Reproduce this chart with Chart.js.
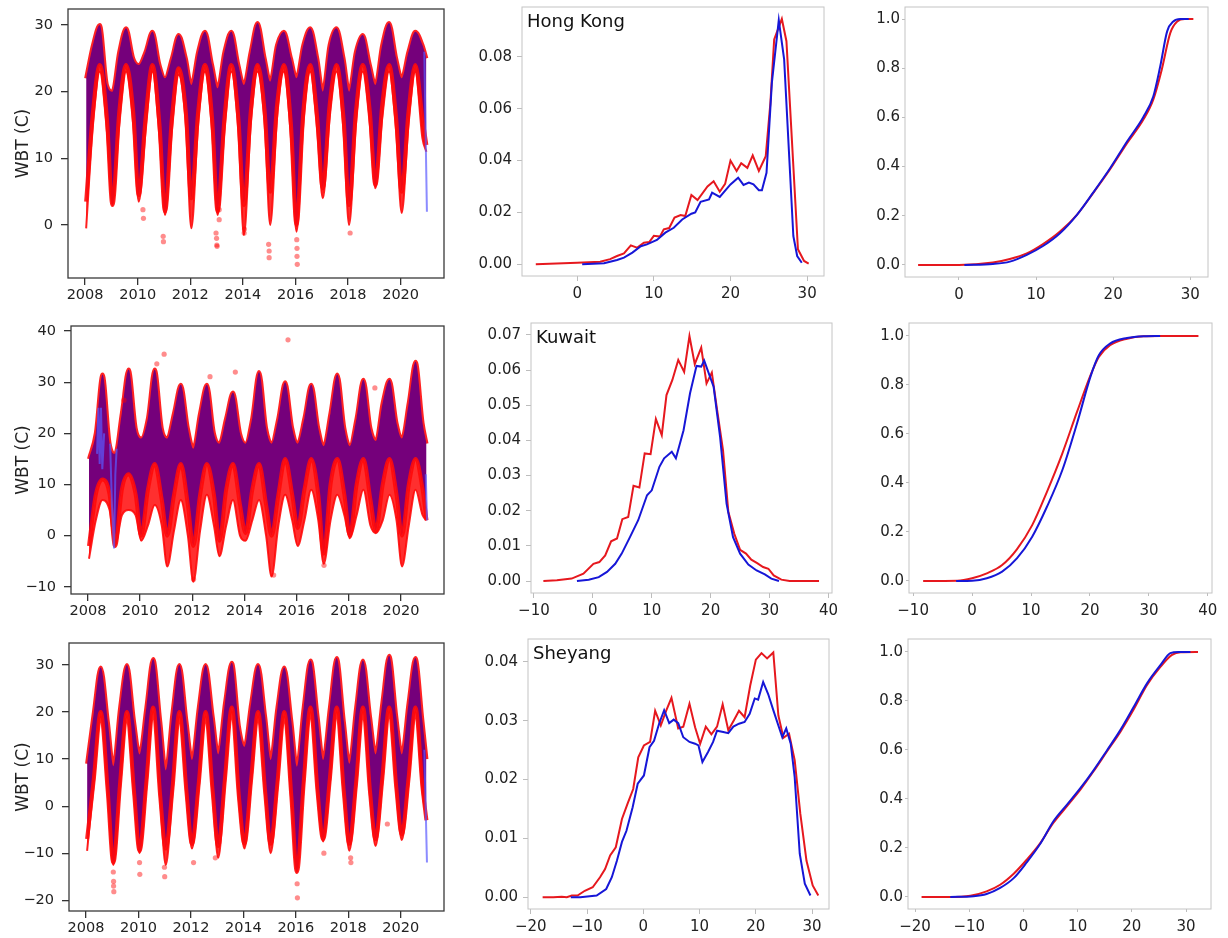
<!DOCTYPE html>
<html lang="en">
<head>
<meta charset="UTF-8">
<title>WBT comparison</title>
<script src="https://cdn.jsdelivr.net/npm/chart.js"></script>
<style>
  body { margin: 0; background: #fff; }
  #fig { position: relative; width: 1228px; height: 938px; overflow: hidden; }
  #fig canvas { position: absolute; }
</style>
</head>
<body>
<div id="fig"></div>
<script>
// ---- time series (left column): envelope read per season, Jan / Apr / Aug / Nov ----
const years = [2008, 2009, 2010, 2011, 2012, 2013, 2014, 2015, 2016, 2017, 2018, 2019, 2020];
const seasonPhase = [0.04, 0.3, 0.56, 0.83];
const lastDay = 2020.98;
const yearTicks = [2008, 2010, 2012, 2014, 2016, 2018, 2020];
const stations = ['Hong Kong', 'Kuwait', 'Sheyang'];

// Hong Kong
const hkHi = [
  22, 27, 30, 21,   20, 26, 29.5, 25,  24, 26, 29, 24,    22, 25, 28.5, 25,
  21, 26, 29, 24,   20.5, 26, 29, 24,  21, 26, 30.3, 25,  21.5, 27, 29, 25,
  22, 27, 29.5, 25, 20, 27, 29.5, 25,  20, 26, 28.5, 24,  21, 27, 30.3, 25,
  22, 26, 29, 27,   25];
const hkLo = [
  3.5, 17, 24, 16,  3, 17, 24, 17,     4.5, 16, 24, 15,   2, 16, 23.5, 17,
  4, 17, 24, 16,    2, 16, 24, 16,     3, 17, 24, 17,     5, 18, 24, 15,
  0, 17, 24, 16,    5.5, 18, 24, 16,   3, 17, 24, 17,     6, 18, 24, 16,
  5, 17, 24, 16,    12];
const hkRedLo = [
  -0.5, 15, 23, 14, 3, 15, 23, 15,     3.5, 14, 23, 13,   1.5, 14, 22.5, 15,
  -0.5, 15, 23, 14, 1.5, 14, 23, 14,   -1.5, 15, 23, 15,  0, 16, 23, 13,
  -1, 15, 23, 14,   4, 16, 23, 14,     0, 15, 23, 15,     5.5, 16, 23, 14,
  1.8, 15, 23, 13,  11];
const hkDotX = [2010.2, 2010.22, 2010.97, 2010.98, 2012.98, 2013.0, 2013.01, 2013.02, 2013.1, 2013.1,
  2014.05, 2014.06, 2014.98, 2015.0, 2015.0, 2016.05, 2016.06, 2016.06, 2016.07, 2018.08];
const hkDotY = [2.3, 1, -1.7, -2.5, -1.2, -2, -3, -3.2, 2.3, 0.8,
  -1.2, -0.6, -2.9, -3.9, -4.9, -2.2, -3.5, -4.7, -5.9, -1.2];
const hkBlueX = [2020.9, 2020.95, 2021.0];
const hkBlueY = [26, 14, 2];

// Kuwait
const kwHi = [
  15, 20, 31.5, 18,   16, 24, 32.5, 21,   19, 23, 32.5, 21,   19, 24, 29.5, 21,
  17, 24, 29.5, 20,   18, 23, 28, 20,     18, 23, 32, 21,     18, 23, 30, 21,
  18, 23, 29.5, 21,   17.5, 24, 31.5, 21, 17.5, 23, 30.5, 21, 18.5, 26, 30.5, 22,
  19, 26, 34, 22,     18];
const kwLo = [
  -2, 8, 11, 8,       -2, 9, 12, 8,       0, 9, 14, 7,        0, 8, 14, 6,
  -2, 8, 14, 8,       -1, 9, 14, 6,       0.5, 9, 14, 6,      0, 8, 15, 8,
  1.5, 9, 15, 8,      -3.5, 10, 15, 8,    0, 10, 15, 7,       1, 10, 15, 8,
  0, 10, 15, 9,       3];
const kwRedLo = [
  -4.5, 3, 7, 5,      -2, 4, 5, 4,        -1, 2, 6, 2,        -6, 1, 7, 0,
  -9, 1, 8, 2,        -4, 2, 7, 0,        -1, 3, 7, 0,        -8, 2, 8, 3,
  -2, 3, 9, 3,        -5.5, 3, 8, 4,      -0.5, 4, 9, 2,      0.5, 3, 8, 3,
  -6, 2, 9, 4,        3];
const kwDotX = [2009.38, 2010.64, 2010.92, 2012.68, 2013.65, 2015.67, 2019.0, 2012.05, 2015.12, 2017.05];
const kwDotY = [26.5, 33.6, 35.5, 31.1, 32, 38.3, 28.9, -8.5, -7.7, -5.8];
const kwBlueX = [2008.35, 2008.4, 2008.45, 2008.5, 2008.55, 2008.62, 2008.7, 2008.85, 2008.92, 2009.0, 2009.05, 2009.1, 2020.9, 2020.95, 2021.0];
const kwBlueY = [16, 25, 14, 25, 13, 20, null, 18, 6, -2.5, 12, 17, null, 12, 3];

// Sheyang
const shHi = [
  9, 20, 29.5, 18,    8.5, 21, 30, 18,    11, 21, 31.3, 18,   7.6, 20, 30, 18,
  9.8, 21, 30, 19,    11, 22, 30.5, 17,   12.6, 22, 30, 19,   9.8, 21, 29.5, 18,
  8.4, 21, 31, 19,    9.8, 21, 31.5, 18,  9, 21, 31, 19,      11, 22, 32, 19,
  11, 22, 31.5, 18,   10];
const shLo = [
  -7, 6, 20, 3,       -12, 5, 20, 3,      -9.5, 5, 21, 2,     -9, 4, 20, 3,
  -8, 5, 20, 3,       -8.5, 6, 21, 2,     -8, 6, 20, 3,       -8, 5, 20, 2,
  -14, 5, 21, 3,      -7, 6, 21, 3,       -8, 5, 21, 3,       -7, 6, 21, 4,
  -6, 6, 21, 4,       -3];
const shRedLo = [
  -9.5, 5, 19, 2,     -12.5, 4, 19, 2,    -10, 4, 20, 1,      -12.5, 3, 19, 2,
  -9, 4, 19, 2,       -11, 5, 20, 1,      -9, 5, 19, 2,       -10, 4, 19, 1,
  -14, 4, 20, 2,      -7.5, 5, 20, 2,     -9.5, 4, 20, 2,     -8.5, 5, 20, 3,
  -7.2, 5, 20, 3,     -3];
const shDotX = [2009.04, 2009.05, 2009.05, 2009.06, 2010.04, 2010.05, 2010.99, 2011.0, 2012.1, 2012.93,
  2016.05, 2016.06, 2017.07, 2018.09, 2018.1, 2019.49];
const shDotY = [-14, -16, -17, -18.2, -12, -14.5, -13, -15, -12, -11,
  -16.5, -19.5, -10, -11, -12, -3.8];
const shBlueX = [2020.9, 2020.95, 2021.0];
const shBlueY = [12, 0, -12];

// ---- probability density (middle column) ----
const hkPdfRedX = [-5.4, 0, 3, 4.3, 5.2, 6.1, 7, 7.8, 8.7, 9.4, 10, 10.8, 11.3, 12, 12.7, 13.5, 14.1, 14.9, 15.7, 17,
  17.8, 18.6, 19.3, 20, 20.8, 21.4, 22.2, 22.9, 23.7, 24.6, 25.2, 25.7, 26.7, 27.3, 28.8, 29.6, 30.2];
const hkPdfRedY = [0, 0.0006, 0.001, 0.002, 0.0032, 0.0042, 0.0073, 0.0064, 0.0083, 0.0086, 0.011, 0.0107, 0.0135, 0.014, 0.018, 0.019, 0.0186, 0.0267, 0.0248, 0.030,
  0.032, 0.028, 0.031, 0.040, 0.036, 0.039, 0.0372, 0.042, 0.036, 0.0417, 0.062, 0.0867, 0.0946, 0.086, 0.0058, 0.0013, 0.0003];
const hkPdfBlueX = [0.65, 3.5, 5.2, 6.1, 7.2, 8.3, 9.1, 10.4, 11.5, 12.6, 13.7, 14.9, 15.4, 16.1, 17.2, 17.6, 18.6, 20, 21, 21.7,
  22.4, 23, 23.7, 24.1, 24.7, 25.4, 26.3, 27, 28.2, 28.7, 29.3];
const hkPdfBlueY = [0, 0.0004, 0.0017, 0.0026, 0.0045, 0.007, 0.0077, 0.0094, 0.0122, 0.0141, 0.0173, 0.0195, 0.02, 0.0241, 0.025, 0.0276, 0.026, 0.0308, 0.0334, 0.0306,
  0.0315, 0.0308, 0.0286, 0.0286, 0.0353, 0.070, 0.0941, 0.079, 0.0109, 0.0032, 0.0006];

const kwPdfRedX = [-8.4, -6.1, -3.6, -1.6, 0.1, 1.1, 2.1, 3.1, 4.1, 5, 6, 6.9, 7.9, 8.8, 9.8, 10.7, 11.7, 12.5, 13.5, 14.5,
  15.5, 16.4, 17.3, 18.4, 19.3, 20.2, 21.1, 22.1, 23, 24, 25, 26, 26.9, 27.9, 28.9, 29.8, 30.7, 32, 33.4, 38.4];
const kwPdfRedY = [0, 0.0002, 0.0007, 0.0021, 0.0049, 0.0054, 0.0073, 0.0113, 0.0121, 0.0176, 0.0182, 0.0271, 0.0266, 0.0363, 0.0361, 0.0461, 0.0415, 0.0529, 0.0572, 0.0629,
  0.0595, 0.0697, 0.0617, 0.0664, 0.0562, 0.0593, 0.0486, 0.0372, 0.0197, 0.0135, 0.0089, 0.0078, 0.0061, 0.0051, 0.004, 0.0035, 0.0016, 0.0004, 0, 0];
const kwPdfBlueX = [-2.7, -0.7, 1, 2.4, 3.8, 4.9, 6.3, 7.7, 9.2, 10, 11.3, 12.1, 13.4, 14.1, 15.4, 16.5, 17.6, 18.4, 18.9, 20.5,
  21.6, 22.7, 23.8, 25, 26.4, 27.8, 29.2, 30.3, 31.6];
const kwPdfBlueY = [0, 0.0004, 0.0011, 0.0026, 0.0049, 0.0078, 0.0125, 0.0173, 0.0244, 0.0258, 0.0325, 0.0349, 0.0368, 0.0349, 0.0429, 0.0534, 0.0612, 0.061, 0.0627, 0.0553,
  0.041, 0.022, 0.0125, 0.0078, 0.0047, 0.003, 0.0019, 0.0007, 0];

const shPdfRedX = [-17.9, -16, -14.5, -13.6, -12.7, -11.7, -10.4, -9, -7.7, -6.8, -5.9, -4.9, -3.8, -2.8, -1.8, -0.9, 0.1, 1.2, 2.1, 3.1,
  4.1, 5, 6.2, 7.1, 8.2, 9.2, 10.1, 11.1, 12.1, 13.1, 14.1, 15.1, 16.1, 17, 18, 19, 20, 21, 22, 23.1,
  24, 24.9, 25.9, 26.9, 27.9, 29, 30.1, 31.1];
const shPdfRedY = [0, 0, 0.0001, 0, 0.0003, 0.0003, 0.0011, 0.0017, 0.0034, 0.0048, 0.0071, 0.0085, 0.0133, 0.0159, 0.0184, 0.0238, 0.0258, 0.0264, 0.0317, 0.0292,
  0.0318, 0.0339, 0.0287, 0.029, 0.0329, 0.0289, 0.0261, 0.029, 0.0277, 0.029, 0.0328, 0.0284, 0.0301, 0.0317, 0.0306, 0.036, 0.0404, 0.0415, 0.0406, 0.0416,
  0.0309, 0.0271, 0.0278, 0.0233, 0.0142, 0.0062, 0.002, 0.0003];
const shPdfBlueX = [-12.9, -11.2, -8.3, -6.6, -5.6, -4.7, -3.8, -3, -1.9, -1, 0.1, 1.1, 1.9, 2.8, 3.7, 4.6, 5.4, 6.2, 7.1, 8.2,
  9.2, 9.8, 10.5, 11.5, 12.4, 13.1, 14.2, 15.1, 16, 17, 18, 18.9, 19.8, 20.4, 21.3, 22.2, 23.1, 24, 24.7, 25.4,
  26.2, 26.9, 27.8, 28.7, 29.7];
const shPdfBlueY = [0, 0, 0.0003, 0.0014, 0.0034, 0.0062, 0.0094, 0.0113, 0.0153, 0.0193, 0.0207, 0.0255, 0.0266, 0.0295, 0.0318, 0.0296, 0.0302, 0.0296, 0.0272, 0.0264,
  0.0261, 0.0258, 0.023, 0.0247, 0.0264, 0.0283, 0.0281, 0.0279, 0.029, 0.0295, 0.0298, 0.0312, 0.0338, 0.0336, 0.0366, 0.0345, 0.0318, 0.0292, 0.0272, 0.0287,
  0.0261, 0.0204, 0.0074, 0.0023, 0.0003];

// ---- cumulative distribution (right column) ----
const hkCdfRedX = [-5.3, 0, 4.4, 6.6, 8.8, 10.9, 13.1, 15.3, 17.4, 19.6, 21.8, 23.9, 25.2, 26.3, 27.4, 28.3, 29.3, 30.4];
const hkCdfRedY = [0, 0, 0.0095, 0.024, 0.047, 0.085, 0.136, 0.204, 0.292, 0.389, 0.495, 0.59, 0.672, 0.794, 0.943, 0.99, 1, 1];
const hkCdfBlueX = [0.7, 4.4, 6.6, 8.8, 10.9, 13.1, 15.3, 17.4, 19.6, 21.8, 23.9, 25.2, 26.1, 27, 27.8, 28.7, 29.8];
const hkCdfBlueY = [0, 0.004, 0.0136, 0.041, 0.077, 0.129, 0.204, 0.294, 0.393, 0.502, 0.601, 0.685, 0.807, 0.95, 0.99, 1, 1];

const kwCdfRedX = [-8.3, -2.5, 0, 2.5, 5.1, 7.6, 10.2, 12.7, 15.3, 17.8, 20.1, 21.5, 23.4, 26.3, 29.1, 31.9, 38.4];
const kwCdfRedY = [0, 0.001, 0.011, 0.031, 0.065, 0.129, 0.228, 0.364, 0.52, 0.69, 0.84, 0.914, 0.962, 0.989, 0.999, 1, 1];
const kwCdfBlueX = [-2.7, 0, 2.5, 5.1, 7.6, 10.2, 12.7, 15.3, 17.8, 20.1, 21.5, 23.4, 26.3, 29.1, 31.9];
const kwCdfBlueY = [0, 0.001, 0.011, 0.038, 0.092, 0.181, 0.303, 0.452, 0.643, 0.835, 0.921, 0.969, 0.992, 0.999, 1];

const shCdfRedX = [-18.8, -13.8, -9.8, -6.8, -4.3, -1.8, 0.6, 3.1, 5.5, 8, 10.5, 12.9, 15.4, 17.9, 20.3, 22.8, 25.3, 27.4, 29, 32.2];
const shCdfRedY = [0, 0, 0.005, 0.023, 0.05, 0.095, 0.152, 0.22, 0.302, 0.37, 0.438, 0.512, 0.594, 0.675, 0.764, 0.865, 0.94, 0.988, 0.999, 1];
const shCdfBlueX = [-13.5, -9.2, -6.8, -4.3, -1.8, 0.6, 3.1, 5.5, 8, 10.5, 12.9, 15.4, 17.9, 20.3, 22.8, 25.3, 27.1, 28.6, 30.8];
const shCdfBlueY = [0, 0.003, 0.012, 0.037, 0.077, 0.141, 0.217, 0.308, 0.376, 0.444, 0.516, 0.598, 0.682, 0.774, 0.872, 0.947, 0.995, 1, 1];

// tick values
const hkTsTicks = [0, 10, 20, 30];
const kwTsTicks = [-10, 0, 10, 20, 30, 40];
const shTsTicks = [-20, -10, 0, 10, 20, 30];
const hkPdfTicks = [0, 0.02, 0.04, 0.06, 0.08];
const kwPdfTicks = [0, 0.01, 0.02, 0.03, 0.04, 0.05, 0.06, 0.07];
const shPdfTicks = [0, 0.01, 0.02, 0.03, 0.04];
const cdfTicks = [0, 0.2, 0.4, 0.6, 0.8, 1.0];
const hkTempTicks = [0, 10, 20, 30];
const kwTempTicks = [-10, 0, 10, 20, 30, 40];
const shTempTicks = [-20, -10, 0, 10, 20, 30];

// ---- drawing ----
Chart.defaults.font.family = '"DejaVu Sans", sans-serif';
Chart.defaults.color = '#222';

const PAD_T = 24, PAD_R = 24, AXIS_H = 36;
const RED_EDGE = 'rgba(255,10,10,0.9)';
const PURPLE = 'rgb(117,0,123)';
const LINE_RED = 'rgb(230,24,30)';
const LINE_BLUE = 'rgb(22,22,215)';

const pts = (xs, ys) => xs.map((x, i) => ({x: x, y: ys[i]}));
const tsX = years.flatMap(yr => seasonPhase.map(p => yr + p)).concat([lastDay]);
const minus = s => s.replace('-', '\u2212');

const framePlugin = {
  id: 'frame',
  afterDatasetsDraw(chart, args, opts) {
    const {ctx, chartArea: a} = chart;
    ctx.save();
    ctx.strokeStyle = opts.color;
    ctx.lineWidth = opts.width;
    ctx.strokeRect(a.left, a.top, a.right - a.left, a.bottom - a.top);
    if (opts.label) {
      ctx.fillStyle = '#111';
      ctx.font = '18px "DejaVu Sans"';
      ctx.textBaseline = 'alphabetic';
      ctx.fillText(opts.label, a.left + 5, a.top + 20);
    }
    ctx.restore();
  }
};

function makeCtx(box, wy) {
  const [l, t, r, b] = box;
  const c = document.createElement('canvas');
  c.width = r - l + wy + PAD_R;
  c.height = b - t + PAD_T + AXIS_H;
  c.style.left = (l - wy) + 'px';
  c.style.top = (t - PAD_T) + 'px';
  document.getElementById('fig').appendChild(c);
  return c.getContext('2d');
}

function axes(p, st) {
  const grid = {drawOnChartArea: false, drawTicks: true, tickLength: st.tick, color: st.tickColor, lineWidth: st.lw};
  const y = {
    type: 'linear', min: p.y[0], max: p.y[1], border: {display: false}, grid: grid,
    afterBuildTicks: s => { s.ticks = p.yt.map(v => ({value: v})); },
    afterFit: s => { s.width = p.wy; },
    ticks: {font: {size: st.font}, color: '#222', padding: st.padY, autoSkip: false, callback: p.fy}
  };
  if (p.title) {
    y.title = {display: true, text: p.title, color: '#222', font: {size: 17}, padding: {top: 13, bottom: 0}};
  }
  return {
    x: {
      type: 'linear', min: p.x[0], max: p.x[1], border: {display: false}, grid: grid,
      afterBuildTicks: s => { s.ticks = p.xt.map(v => ({value: v})); },
      afterFit: s => { s.height = AXIS_H; },
      ticks: {font: {size: st.font}, color: '#222', padding: st.padX, autoSkip: false, maxRotation: 0, callback: p.fx}
    },
    y: y
  };
}

function draw(p, st, datasets) {
  new Chart(makeCtx(p.box, p.wy), {
    type: 'line',
    data: {datasets: datasets},
    options: {
      responsive: false, animation: false, events: [],
      layout: {padding: {top: PAD_T, right: PAD_R, left: 0, bottom: 0}},
      elements: {point: {radius: 0}},
      scales: axes(p, st),
      plugins: {legend: {display: false}, tooltip: {enabled: false},
        frame: {color: st.frame, width: st.lw, label: p.label}}
    },
    plugins: [framePlugin]
  });
}

const tsStyle = {font: 14.5, tick: 7, tickColor: '#333', lw: 1.3, padX: 2, padY: 8, frame: '#3a3a3a'};
const pdfStyle = {font: 15, tick: 5, tickColor: '#bdbdbd', lw: 1, padX: 4, padY: 5, frame: '#c4c4c4'};
const cdfStyle = {font: 15, tick: 3, tickColor: '#bdbdbd', lw: 1, padX: 6, padY: 2, frame: '#c4c4c4'};

function tsSets(hi, lo, redLo, dotX, dotY, blueX, blueY) {
  return [
    {data: pts(tsX, hi), borderColor: RED_EDGE, borderWidth: 4, fill: false, cubicInterpolationMode: 'monotone', order: 4},
    {data: pts(tsX, lo), borderColor: RED_EDGE, borderWidth: 4, fill: '-1', backgroundColor: PURPLE, cubicInterpolationMode: 'monotone', order: 3},
    {data: pts(tsX, redLo), borderColor: RED_EDGE, borderWidth: 2, fill: '-1', backgroundColor: 'rgba(255,10,10,0.85)', cubicInterpolationMode: 'monotone', order: 5},
    {data: pts(blueX, blueY), borderColor: 'rgba(90,90,255,0.7)', borderWidth: 2, fill: false, order: 2},
    {data: pts(dotX, dotY), showLine: false, pointRadius: 2.6, pointBorderWidth: 0,
      pointBackgroundColor: 'rgba(255,0,0,0.45)', borderColor: 'rgba(0,0,0,0)', order: 1}
  ];
}

function distSets(rx, ry, bx, by, smooth) {
  const mode = smooth ? 'monotone' : 'default';
  return [
    {data: pts(rx, ry), borderColor: LINE_RED, borderWidth: 2, fill: false, cubicInterpolationMode: mode, order: 2},
    {data: pts(bx, by), borderColor: LINE_BLUE, borderWidth: 2, fill: false, cubicInterpolationMode: mode, order: 1}
  ];
}

const yearFmt = v => String(v);
const intFmt = v => minus(String(v));
const f2 = v => v.toFixed(2);
const f1 = v => v.toFixed(1);

// left column
draw({box: [68, 9, 444, 278], wy: 68, x: [2007.35, 2021.65], y: [-7.95, 32.4], xt: yearTicks, yt: hkTsTicks,
  fx: yearFmt, fy: intFmt, title: 'WBT (C)'}, tsStyle,
  tsSets(hkHi, hkLo, hkRedLo, hkDotX, hkDotY, hkBlueX, hkBlueY));
draw({box: [71, 326, 444, 594], wy: 71, x: [2007.35, 2021.65], y: [-11.4, 41], xt: yearTicks, yt: kwTsTicks,
  fx: yearFmt, fy: intFmt, title: 'WBT (C)'}, tsStyle,
  tsSets(kwHi, kwLo, kwRedLo, kwDotX, kwDotY, kwBlueX, kwBlueY));
draw({box: [69, 643, 444, 911], wy: 69, x: [2007.35, 2021.65], y: [-22.3, 34.7], xt: yearTicks, yt: shTsTicks,
  fx: yearFmt, fy: intFmt, title: 'WBT (C)'}, tsStyle,
  tsSets(shHi, shLo, shRedLo, shDotX, shDotY, shBlueX, shBlueY));

// middle column
draw({box: [522, 7, 824, 276], wy: 60, x: [-7.2, 32.2], y: [-0.0045, 0.0992], xt: hkTempTicks, yt: hkPdfTicks,
  fx: intFmt, fy: f2, label: stations[0]}, pdfStyle, distSets(hkPdfRedX, hkPdfRedY, hkPdfBlueX, hkPdfBlueY, false));
draw({box: [531, 323, 832, 593], wy: 60, x: [-10.5, 40.6], y: [-0.0034, 0.0734], xt: kwTempTicks, yt: kwPdfTicks,
  fx: intFmt, fy: f2, label: stations[1]}, pdfStyle, distSets(kwPdfRedX, kwPdfRedY, kwPdfBlueX, kwPdfBlueY, false));
draw({box: [528, 639, 829, 909], wy: 60, x: [-20.5, 33], y: [-0.002, 0.0439], xt: shTempTicks, yt: shPdfTicks,
  fx: intFmt, fy: f2, label: stations[2]}, pdfStyle, distSets(shPdfRedX, shPdfRedY, shPdfBlueX, shPdfBlueY, false));

// right column
draw({box: [905, 7, 1208, 277], wy: 60, x: [-7.0, 32.3], y: [-0.049, 1.049], xt: hkTempTicks, yt: cdfTicks,
  fx: intFmt, fy: f1}, cdfStyle, distSets(hkCdfRedX, hkCdfRedY, hkCdfBlueX, hkCdfBlueY, true));
draw({box: [909, 323, 1212, 593], wy: 60, x: [-10.7, 40.7], y: [-0.049, 1.053], xt: kwTempTicks, yt: cdfTicks,
  fx: intFmt, fy: f1}, cdfStyle, distSets(kwCdfRedX, kwCdfRedY, kwCdfBlueX, kwCdfBlueY, true));
draw({box: [908, 639, 1211, 909], wy: 60, x: [-21.3, 34.6], y: [-0.049, 1.053], xt: shTempTicks, yt: cdfTicks,
  fx: intFmt, fy: f1}, cdfStyle, distSets(shCdfRedX, shCdfRedY, shCdfBlueX, shCdfBlueY, true));
</script>
</body>
</html>
